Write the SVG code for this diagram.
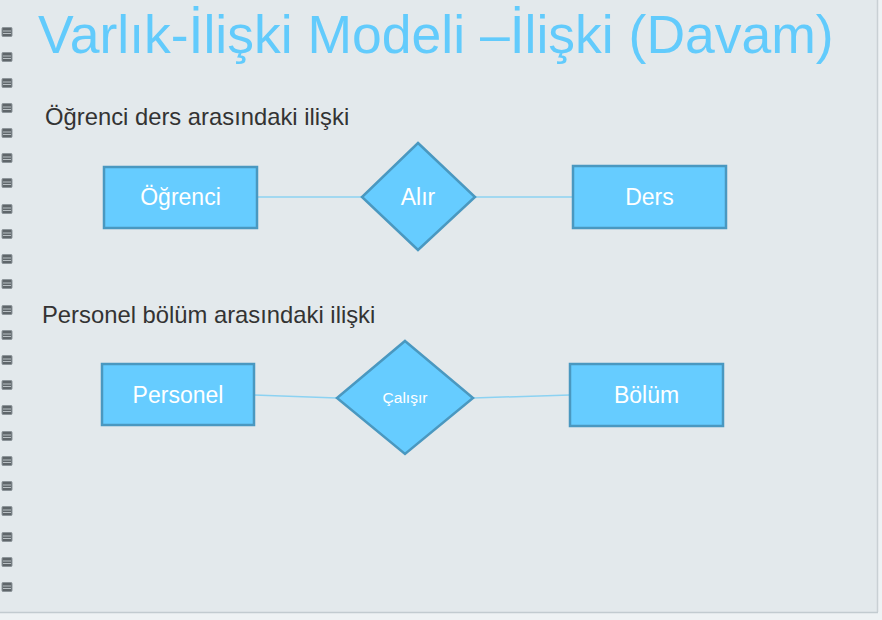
<svg xmlns="http://www.w3.org/2000/svg" width="882" height="620" viewBox="0 0 882 620">
<defs>
<style>
.bg{fill:#E3E9EC}
.ring{fill:#5f666a;stroke:#8d959a;stroke-width:1}
.ringline{stroke:#b8bfc3;stroke-width:1}
.ent{fill:#66CCFF;stroke:#4A98C0;stroke-width:2.5}
.lbl{font-family:"Liberation Sans",Arial,sans-serif;fill:#FFFFFF;text-anchor:middle}
.sub{font-family:"Liberation Sans",Arial,sans-serif;fill:#333333;font-size:23.8px}
.con{stroke:#8CD2F2;stroke-width:1.5;fill:none}
</style>
<g id="ringShape">
<rect x="2" y="-4.5" width="10" height="9" rx="1" class="ring"/>
<line x1="3" y1="-1" x2="11" y2="-1" class="ringline"/>
<line x1="3" y1="1.5" x2="11" y2="1.5" class="ringline"/>
</g>
</defs>
<rect x="0" y="0" width="882" height="620" fill="#EEF2F4"/>
<rect x="0" y="0" width="877" height="612" class="bg"/>
<line x1="877.5" y1="0" x2="877.5" y2="612" stroke="#C9D0D4" stroke-width="1.5"/>
<line x1="0" y1="612.5" x2="878" y2="612.5" stroke="#C2CBD0" stroke-width="1.5"/>
<g id="binding">
<use href="#ringShape" y="32"/><use href="#ringShape" y="57"/><use href="#ringShape" y="83"/><use href="#ringShape" y="108"/>
<use href="#ringShape" y="133"/><use href="#ringShape" y="158"/><use href="#ringShape" y="183"/><use href="#ringShape" y="209"/>
<use href="#ringShape" y="234"/><use href="#ringShape" y="259"/><use href="#ringShape" y="284"/><use href="#ringShape" y="310"/>
<use href="#ringShape" y="335"/><use href="#ringShape" y="360"/><use href="#ringShape" y="385"/><use href="#ringShape" y="410"/>
<use href="#ringShape" y="436"/><use href="#ringShape" y="461"/><use href="#ringShape" y="486"/><use href="#ringShape" y="511"/>
<use href="#ringShape" y="537"/><use href="#ringShape" y="562"/><use href="#ringShape" y="587"/>
</g>
<text x="38" y="53" font-family="'Liberation Sans',Arial,sans-serif" font-size="53.5" fill="#62CBFC">Varlık-İlişki Modeli –İlişki (Davam)</text>
<text x="45" y="125" class="sub">Öğrenci ders arasındaki ilişki</text>
<text x="42" y="323" class="sub">Personel bölüm arasındaki ilişki</text>
<g id="connectors">
<line x1="257" y1="197" x2="362" y2="197" class="con"/>
<line x1="475" y1="197" x2="573" y2="197" class="con"/>
<line x1="254" y1="395" x2="337" y2="398" class="con"/>
<line x1="473" y1="398" x2="570" y2="395" class="con"/>
</g>
<g id="ogrenci">
<rect x="104" y="167" width="153" height="61" class="ent"/>
<text x="180.5" y="205" class="lbl" font-size="23">Öğrenci</text>
</g>
<g id="alir">
<polygon points="418,143 475,197 418,250 362,197" class="ent"/>
<text x="418" y="205" class="lbl" font-size="23">Alır</text>
</g>
<g id="ders">
<rect x="573" y="166" width="153" height="62" class="ent"/>
<text x="649.5" y="205" class="lbl" font-size="23">Ders</text>
</g>
<g id="personel">
<rect x="102" y="364" width="152" height="61" class="ent"/>
<text x="178" y="403" class="lbl" font-size="23">Personel</text>
</g>
<g id="calisir">
<polygon points="405,341 473,398 405,454 337,398" class="ent"/>
<text x="405" y="403" class="lbl" font-size="15.5">Çalışır</text>
</g>
<g id="bolum">
<rect x="570" y="364" width="153" height="62" class="ent"/>
<text x="646.5" y="403" class="lbl" font-size="23">Bölüm</text>
</g>
</svg>
